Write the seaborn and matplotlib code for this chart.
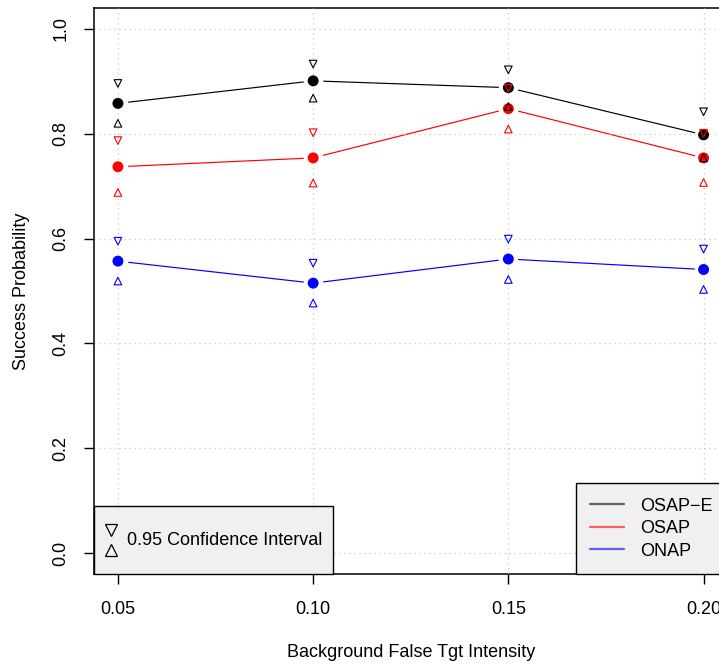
"""Success probability vs background false target intensity."""

import numpy as np
import pandas as pd
import matplotlib
matplotlib.use("Agg")
import matplotlib.pyplot as plt
import seaborn as sns
from matplotlib.lines import Line2D
from matplotlib.legend_handler import HandlerBase

# data
intensity = [0.05, 0.10, 0.15, 0.20]
methods = ["OSAP\u2212E", "OSAP", "ONAP"]
colors = ["black", "red", "blue"]

osap_e_mean = [0.858, 0.901, 0.888, 0.798]
osap_e_upper = [0.896, 0.933, 0.922, 0.842]
osap_e_lower = [0.820, 0.868, 0.852, 0.754]

osap_mean = [0.737, 0.754, 0.848, 0.754]
osap_upper = [0.787, 0.802, 0.887, 0.801]
osap_lower = [0.688, 0.706, 0.809, 0.707]

onap_mean = [0.557, 0.515, 0.561, 0.541]
onap_upper = [0.595, 0.553, 0.599, 0.580]
onap_lower = [0.519, 0.477, 0.522, 0.503]

yticks = [0.0, 0.2, 0.4, 0.6, 0.8, 1.0]

frames = []
for name, m, u, l in zip(methods,
                         [osap_e_mean, osap_mean, onap_mean],
                         [osap_e_upper, osap_upper, onap_upper],
                         [osap_e_lower, osap_lower, onap_lower]):
    frames.append(pd.DataFrame({"x": intensity, "mean": m, "upper": u,
                                "lower": l, "method": name}))
df = pd.concat(frames, ignore_index=True)
palette = dict(zip(methods, colors))


class StackedTriangles(HandlerBase):
    """Legend handle: down triangle above an up triangle."""
    def create_artists(self, legend, orig_handle, xdescent, ydescent,
                       width, height, fontsize, trans):
        cx = width / 2 - xdescent
        cy = height / 2 - ydescent
        off = 0.55 * fontsize
        arts = []
        for mk, dy in (("v", off), ("^", -off)):
            arts.append(Line2D([cx], [cy + dy], marker=mk, markersize=8,
                               markerfacecolor="none", markeredgecolor="black",
                               markeredgewidth=0.9, linestyle="none",
                               transform=trans))
        return arts


sns.set_style("ticks")
plt.rcParams["font.family"] = ["Liberation Sans", "DejaVu Sans"]
plt.rcParams["font.size"] = 13
for key in ["text.color", "axes.labelcolor", "xtick.color", "ytick.color"]:
    plt.rcParams[key] = "black"

fig = plt.figure(figsize=(7.19, 6.64), dpi=100)
ax = fig.add_axes([94.5 / 719, 90 / 664, 632.5 / 719, 566 / 664])

# lines, then white halos so the lines stop short of the points (R type="b")
sns.lineplot(data=df, x="x", y="mean", hue="method", palette=palette,
             linewidth=0.85, legend=False, ax=ax, zorder=1)
ax.scatter(df["x"], df["mean"], s=200, color="white", linewidths=0, zorder=1.5)
sns.scatterplot(data=df, x="x", y="mean", hue="method", palette=palette,
                s=62, edgecolor="none", legend=False, ax=ax, zorder=3)

for name, c in zip(methods, colors):
    sub = df[df["method"] == name]
    ax.scatter(sub["x"], sub["upper"], marker="v", s=30, facecolors="none",
               edgecolors=c, linewidths=0.8, zorder=4)
    ax.scatter(sub["x"], sub["lower"], marker="^", s=30, facecolors="none",
               edgecolors=c, linewidths=0.8, zorder=4)

ax.set_xlim(0.044, 0.206)
ax.set_ylim(-0.04, 1.04)
ax.set_xticks(intensity)
ax.set_xticklabels([f"{v:.2f}" for v in intensity])
ax.set_yticks(yticks)
ax.set_yticklabels([f"{v:.1f}" for v in yticks], rotation=90, va="center")
ax.tick_params(axis="both", length=7.5, width=1, color="black", labelsize=13)
ax.tick_params(axis="x", pad=12)
ax.tick_params(axis="y", pad=10.5)

ax.set_axisbelow(False)
ax.grid(True, linestyle=(0, (1, 3)), color="#c8c8c8", linewidth=0.9)
for sp in ax.spines.values():
    sp.set_visible(True)
    sp.set_color("black")
    sp.set_linewidth(1.1)

ax.set_xlabel("Background False Tgt Intensity", fontsize=13, labelpad=18.5)
ax.set_ylabel("Success Probability", fontsize=13, labelpad=16.5)

# confidence interval legend, bottom-left corner
ci_handle = Line2D([], [])
leg1 = ax.legend([ci_handle], ["0.95 Confidence Interval"],
                 handler_map={Line2D: StackedTriangles()},
                 loc="lower left", bbox_to_anchor=(0, 0), borderaxespad=0,
                 frameon=True, fancybox=False, framealpha=1,
                 facecolor="#f0f0f0", edgecolor="black", fontsize=13,
                 handlelength=0.6, handleheight=3.6, handletextpad=0.6,
                 borderpad=0.6)
leg1.get_frame().set_linewidth(1)
leg1.set_zorder(5)
ax.add_artist(leg1)

# method legend, bottom-right corner (cut off by the figure edge)
handles = [Line2D([], [], color=c, alpha=0.6, linewidth=1.6) for c in colors]
leg2 = ax.legend(handles, methods, loc="lower right", bbox_to_anchor=(1, 0),
                 borderaxespad=0, frameon=True, fancybox=False, framealpha=1,
                 facecolor="#f0f0f0", edgecolor="black", fontsize=13,
                 handlelength=1.85, handletextpad=0.9, labelspacing=0.3,
                 borderpad=0.8)
leg2.get_frame().set_linewidth(1)
leg2.set_zorder(5)

fig.savefig("out.png", dpi=100)
plt.close(fig)
